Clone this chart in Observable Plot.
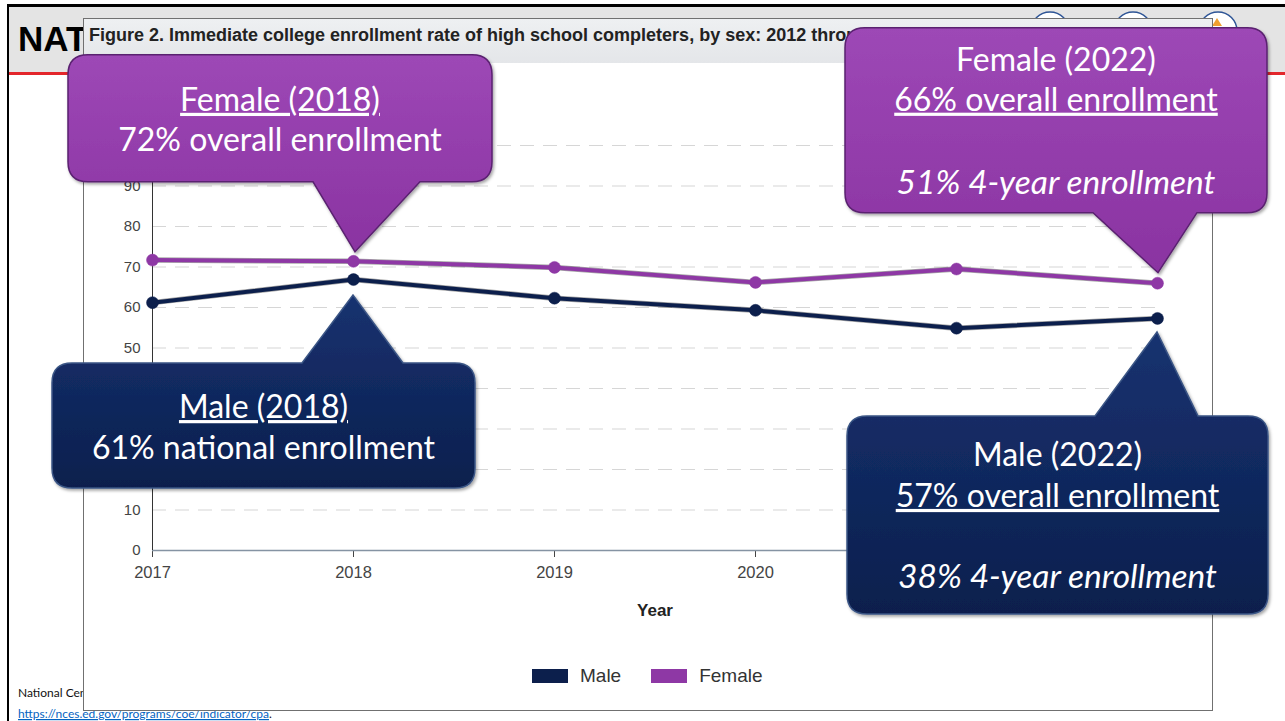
<!DOCTYPE html>
<html><head><meta charset="utf-8">
<script src="https://cdn.jsdelivr.net/npm/d3@7"></script>
<script src="https://cdn.jsdelivr.net/npm/@observablehq/plot@0.6"></script>
<style>
html,body{margin:0;padding:0;width:1285px;height:721px;overflow:hidden;background:#fff;font-family:"Liberation Sans",Arial,sans-serif;}
#slide{position:relative;width:1285px;height:721px;}
.abs{position:absolute;}
#frame{left:83px;top:18px;width:1128px;height:691px;border:1px solid #707070;background:#fff;}
#titlebar{left:0;top:0;width:1128px;height:44px;background:linear-gradient(#eef0f2,#e4e6e9);}
#title{left:5px;top:6px;font:bold 18px "Liberation Sans",Arial,sans-serif;color:#222;white-space:nowrap;}
#yearlabel{left:600px;top:601px;width:110px;text-align:center;font:bold 17px "Liberation Sans",Arial,sans-serif;color:#222;}
#legend{left:532px;top:665px;display:flex;align-items:center;font:19px "Liberation Sans",Arial,sans-serif;color:#333;}
#legend .sw{width:36px;height:14px;margin-right:12px;}
#legend .it{display:flex;align-items:center;margin-right:30px;}
#plotwrap{left:0;top:0;}
</style></head><body>
<div id="slide">
<svg id="bg" class="abs" width="1285" height="721" style="left:0;top:0">
  <rect x="9" y="7" width="1276" height="65" fill="#e4e4e4"/>
  <rect x="7" y="4" width="1278" height="3" fill="#000"/>
  <rect x="7" y="4" width="2" height="717" fill="#000"/>
  <rect x="9" y="72" width="1276" height="3" fill="#e3262b"/>
  <text x="18" y="51" font-family="Liberation Sans, Arial, sans-serif" font-weight="bold" font-size="35" fill="#000">NATIONAL</text>
  <circle cx="1050" cy="31" r="19" fill="#fff" stroke="#2e5596" stroke-width="1.5"/>
  <circle cx="1133" cy="31" r="19" fill="#fff" stroke="#2e5596" stroke-width="1.5"/>
  <circle cx="1218" cy="31" r="19" fill="#fff" stroke="#2e5596" stroke-width="1.5"/>
  <path d="M1212,26 l5,-8 l5,8 z" fill="#f0a030"/>
  <text x="18" y="697" font-family="Lato, sans-serif" font-size="12" fill="#111">National Center for Education Statistics. (2024). Immediate College Enrollment Rate.</text>
  <text x="18" y="718" font-family="Lato, sans-serif" font-size="12" fill="#111"><tspan fill="#0563c1" text-decoration="underline">https://nces.ed.gov/programs/coe/indicator/cpa</tspan>.</text>
</svg>
<div id="frame" class="abs">
  <div id="titlebar" class="abs"><div id="title" class="abs">Figure 2. Immediate college enrollment rate of high school completers, by sex: 2012 through 2022</div></div>
</div>
<div id="yearlabel" class="abs">Year</div>
<div id="legend" class="abs"></div>
<div id="plotwrap" class="abs"></div>
</div>
<script>
// ---- data ----
const years = [2017, 2018, 2019, 2020, 2021, 2022];
const sexes = ["Male", "Female"];
const maleRate = [61.2, 66.9, 62.3, 59.3, 54.9, 57.3];
const femaleRate = [71.7, 71.4, 69.9, 66.2, 69.5, 66.0];
const yTicks = [0, 10, 20, 30, 40, 50, 60, 70, 80, 90, 100];
const seriesColors = ["#0c1f4c", "#8e38a5"];

const rows = [];
years.forEach((yr, i) => {
  rows.push({year: yr, sex: "Male", value: maleRate[i]});
  rows.push({year: yr, sex: "Female", value: femaleRate[i]});
});

// callout texts
const callouts = [
  {sex: "Female", year: 2018, kind: "purple", side: "bottom",
   lines: [{t: "Female (2018)", u: true}, {t: "72% overall enrollment"}]},
  {sex: "Male", year: 2018, kind: "navy", side: "top",
   lines: [{t: "Male (2018)", u: true}, {t: "61% national enrollment"}]},
  {sex: "Female", year: 2022, kind: "purple", side: "bottom",
   lines: [{t: "Female (2022)"}, {t: "66% overall enrollment", u: true}, {t: ""}, {t: "51% 4-year enrollment", i: true}]},
  {sex: "Male", year: 2022, kind: "navy", side: "top",
   lines: [{t: "Male (2022)"}, {t: "57% overall enrollment", u: true}, {t: ""}, {t: "38% 4-year enrollment", i: true}]}
];
// layout of callouts (pixel offsets from the anchored data point)
const calloutLayout = [
  {dx0: -285, dx1: 139, dy0: -206, dy1: -79, b0: -40, b1: 67, tip: [2, -9], base: [56, 40]},
  {dx0: -301, dx1: 122, dy0: 84, dy1: 209, b0: -51, b1: 50, tip: [0, 16], base: [55, 41]},
  {dx0: -312, dx1: 110, dy0: -255, dy1: -70, b0: -64, b1: 40, tip: [1, -10], base: [43, 40, 41.5, 41.5]},
  {dx0: -310, dx1: 111, dy0: 98, dy1: 296, b0: -62, b1: 41, tip: [0, 14], base: [50, 41, 40.5, 40.5]}
];

const chart = Plot.plot({
  width: 1285, height: 721,
  marginLeft: 152, marginRight: 128, marginTop: 145, marginBottom: 171,
  style: {background: "transparent", fontFamily: "Liberation Sans, Arial, sans-serif", fontSize: "15px", color: "#444", overflow: "visible"},
  x: {domain: [2017, 2022], ticks: years, tickFormat: d => String(d), label: null, tickSize: 7, tickPadding: 9},
  y: {domain: [0, 100], ticks: yTicks, label: null, tickSize: 0, tickPadding: 12},
  color: {domain: sexes, range: seriesColors},
  marks: [
    Plot.ruleY(yTicks.filter(d => d > 0), {stroke: "#d6d6d6", strokeWidth: 1.2, strokeDasharray: "14,9"}),
    Plot.ruleY([0], {stroke: "#8593a3", strokeWidth: 1.5}),
    Plot.ruleX([2017], {y1: 0, y2: 100, stroke: "#333", strokeWidth: 1}),
    Plot.line(rows, {x: "year", y: "value", z: "sex", stroke: "#000", strokeOpacity: 0.35, strokeWidth: 5.5}),
    Plot.line(rows, {x: "year", y: "value", z: "sex", stroke: "sex", strokeWidth: 4}),
    Plot.dot(rows, {x: "year", y: "value", fill: "sex", r: 6, stroke: "sex", strokeWidth: 0.5})
  ]
});
document.getElementById("plotwrap").appendChild(chart);

// larger x tick labels, as in the original
d3.select(chart).selectAll('g[aria-label^="x-axis"] text').attr("font-size", 16.5).style("font-size", "16.5px");

// ---- callouts, anchored through the plot's scales ----
const sx = chart.scale("x"), sy = chart.scale("y");
const X = d3.scaleLinear(sx.domain, sx.range), Y = d3.scaleLinear(sy.domain, sy.range);
const svg = d3.select(chart);
const defs = svg.append("defs");
const grads = {
  purple: {top: "#9d48b6", bot: "#8a33a1", stroke: "#5a2170"},
  navy: {top: "#173270", bot: "#0b1f4d", stroke: "#3b5585"}
};
Object.entries(grads).forEach(([k, g]) => {
  const lg = defs.append("linearGradient").attr("id", "g-" + k).attr("x1", 0).attr("y1", 0).attr("x2", 0).attr("y2", 1);
  lg.append("stop").attr("offset", "0%").attr("stop-color", g.top);
  lg.append("stop").attr("offset", "100%").attr("stop-color", g.bot);
});
const flt = defs.append("filter").attr("id", "shadow").attr("x", "-10%").attr("y", "-10%").attr("width", "130%").attr("height", "130%");
flt.append("feDropShadow").attr("dx", 1.5).attr("dy", 2).attr("stdDeviation", 1.5).attr("flood-color", "#000").attr("flood-opacity", 0.35);

const layer = svg.append("g").attr("class", "callouts");
callouts.forEach((c, k) => {
  const L = calloutLayout[k];
  const vals = c.sex === "Male" ? maleRate : femaleRate;
  const px = X(c.year), py = Y(vals[years.indexOf(c.year)]);
  const x0 = px + L.dx0, x1 = px + L.dx1, y0 = py + L.dy0, y1 = py + L.dy1, r = 20;
  const tx = px + L.tip[0], ty = py + L.tip[1], b0 = px + L.b0, b1 = px + L.b1;
  let d;
  if (c.side === "bottom") {
    d = `M${x0 + r},${y0}H${x1 - r}Q${x1},${y0} ${x1},${y0 + r}V${y1 - r}Q${x1},${y1} ${x1 - r},${y1}H${b1}L${tx},${ty}L${b0},${y1}H${x0 + r}Q${x0},${y1} ${x0},${y1 - r}V${y0 + r}Q${x0},${y0} ${x0 + r},${y0}Z`;
  } else {
    d = `M${x0 + r},${y0}H${b0}L${tx},${ty}L${b1},${y0}H${x1 - r}Q${x1},${y0} ${x1},${y0 + r}V${y1 - r}Q${x1},${y1} ${x1 - r},${y1}H${x0 + r}Q${x0},${y1} ${x0},${y1 - r}V${y0 + r}Q${x0},${y0} ${x0 + r},${y0}Z`;
  }
  const g = layer.append("g");
  g.append("path").attr("d", d).attr("fill", `url(#g-${c.kind})`).attr("stroke", grads[c.kind].stroke).attr("stroke-width", 1.5).attr("filter", "url(#shadow)");
  const cx = (x0 + x1) / 2;
  let by = y0;
  c.lines.forEach((ln, j) => {
    by += L.base[j];
    if (!ln.t) return;
    g.append("text").attr("x", cx).attr("y", by).attr("text-anchor", "middle")
      .attr("fill", "#fff").attr("font-family", "Lato, 'Open Sans', sans-serif").attr("font-size", ln.i ? 33.5 : 32)
      .attr("font-style", ln.i ? "italic" : "normal")
      .attr("text-decoration", ln.u ? "underline" : "none")
      .text(ln.t);
  });
});

// ---- legend ----
const leg = d3.select("#legend");
sexes.forEach((s, i) => {
  const it = leg.append("div").attr("class", "it");
  it.append("div").attr("class", "sw").style("background", seriesColors[i]);
  it.append("span").text(s);
});
</script>
</body></html>
